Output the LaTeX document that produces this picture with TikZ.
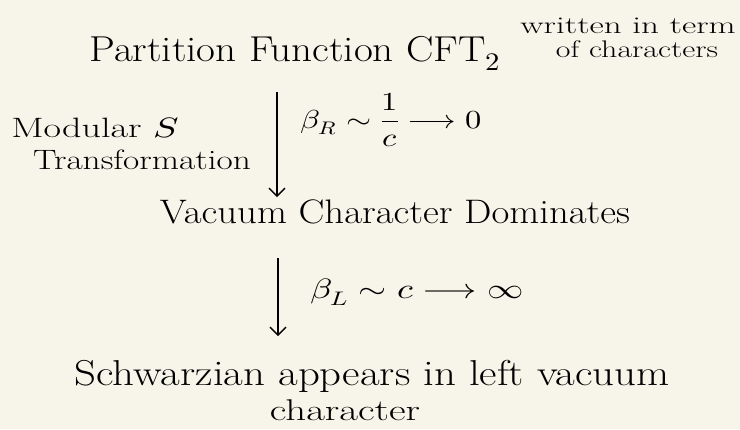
\documentclass[tikz,border=0pt]{standalone}
\usepackage{fontspec}
\usepackage{unicode-math}
\definecolor{paper}{HTML}{F7F5EA}
\usetikzlibrary{arrows.meta}
\tikzset{
  lbl/.style={inner sep=0pt, text=black},
  flow/.style={-{Straight Barb[length=8pt,width=16pt]}, line width=1.4pt}
}
\newcommand{\fs}[1]{\fontsize{#1}{#1}\selectfont}
\begin{document}
\begin{tikzpicture}[x=1pt,y=-1pt]
\fill[paper] (0,0) rectangle (740,429);
\useasboundingbox (0,0) rectangle (740,429);
\node[lbl] (pf) at (295,53) {\fs{36}\scalebox{1.14}[1]{Partition Function CFT$_2$}};
\node[lbl] (wr1) at (628,26) {\fs{24}\scalebox{1.46}[1]{written in term}};
\node[lbl] (wr2) at (637,49) {\fs{24}\scalebox{1.33}[1]{of characters}};
\node[lbl] (vc) at (395,212) {\fs{34}\scalebox{1.14}[1]{Vacuum Character Dominates}};
\node[lbl] (ms1) at (95,128) {\fs{28}\scalebox{1.36}[1]{Modular $S$}};
\node[lbl] (ms2) at (142,160) {\fs{28}\scalebox{1.26}[1]{Transformation}};
\node[lbl, anchor=west] (br) at (300,120) {\fs{26}\scalebox{1.25}[1]{$\beta_R\sim{\displaystyle\frac{1}{c}}\longrightarrow 0$}};
\node[lbl, anchor=west] (bl) at (310,292) {\fs{28}\scalebox{1.3}[1]{$\beta_L\sim c\longrightarrow \infty$}};
\node[lbl] (sch) at (372,376) {\fs{36}\scalebox{1.19}[1]{Schwarzian appears in left vacuum}};
\node[lbl] (ch) at (345,410) {\fs{30}\scalebox{1.36}[1]{character}};
\coordinate (a1s) at (277,92);
\coordinate (a1e) at (277,197);
\draw[flow] (a1s) -- (a1e);
\coordinate (a2s) at (278,258);
\coordinate (a2e) at (278,336);
\draw[flow] (a2s) -- (a2e);
\end{tikzpicture}
\end{document}
